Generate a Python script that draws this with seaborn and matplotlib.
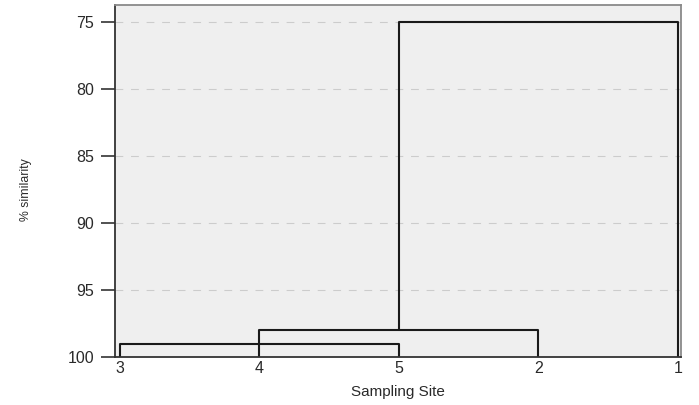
import matplotlib
matplotlib.use("Agg")
import matplotlib.pyplot as plt
import seaborn as sns
import pandas as pd

# Leaf order along the x axis and the merge heights (% similarity)
sites = ["3", "4", "5", "2", "1"]
link_left = ["3", "4", "5"]
link_right = ["5", "2", "1"]
link_left_base = [100, 100, 98]
link_right_base = [100, 100, 100]
link_height = [99, 98, 75]
y_ticks = [75, 80, 85, 90, 95, 100]

pos = {s: i for i, s in enumerate(sites)}

rows = []
for k, (l, r, lb, rb, h) in enumerate(zip(link_left, link_right, link_left_base,
                                          link_right_base, link_height)):
    pts = [(pos[l], lb), (pos[l], h), (pos[r], h), (pos[r], rb)]
    for j, (x, y) in enumerate(pts):
        rows.append({"link": k, "order": j, "x": x, "y": y})
df = pd.DataFrame(rows)

sns.set_theme(style="white")
plt.rcParams["font.family"] = ["Liberation Sans", "DejaVu Sans"]

fig = plt.figure(figsize=(6.99, 4.05), dpi=100)
ax = fig.add_axes([0.1645, 0.1185, 0.8095, 0.8695])
ax.set_facecolor("#efefef")

for y in y_ticks[:-1]:
    ax.axhline(y, color="#cccccc", lw=0.8, ls=(0, (7, 7)), zorder=0)

sns.lineplot(data=df, x="x", y="y", units="link", estimator=None, sort=False,
             color="#1a1a1a", lw=1.5, ax=ax, legend=False)

ax.set_xlim(-0.035, 4.02)
ax.set_ylim(100, 73.7)
ax.set_xticks(range(len(sites)))
ax.set_xticklabels(sites)
ax.set_yticks(y_ticks)
ax.tick_params(axis="y", direction="out", length=10, width=1.2, color="#333333",
               labelsize=11.5, labelcolor="#2a2a2a", pad=5, left=True)
ax.tick_params(axis="x", length=0, labelsize=11.5, labelcolor="#2a2a2a", pad=3)

ax.set_xlabel("Sampling Site", fontsize=11, color="#2a2a2a", labelpad=6)
ax.set_ylabel("% similarity", fontsize=8.8, color="#2a2a2a")
ax.yaxis.set_label_coords(-0.147, 0.475)

for side in ["left", "bottom"]:
    ax.spines[side].set_color("#333333")
    ax.spines[side].set_linewidth(1.3)
for side in ["top", "right"]:
    ax.spines[side].set_color("#8a8a8a")
    ax.spines[side].set_linewidth(1.3)

fig.savefig("out.png", dpi=100, facecolor="white")
